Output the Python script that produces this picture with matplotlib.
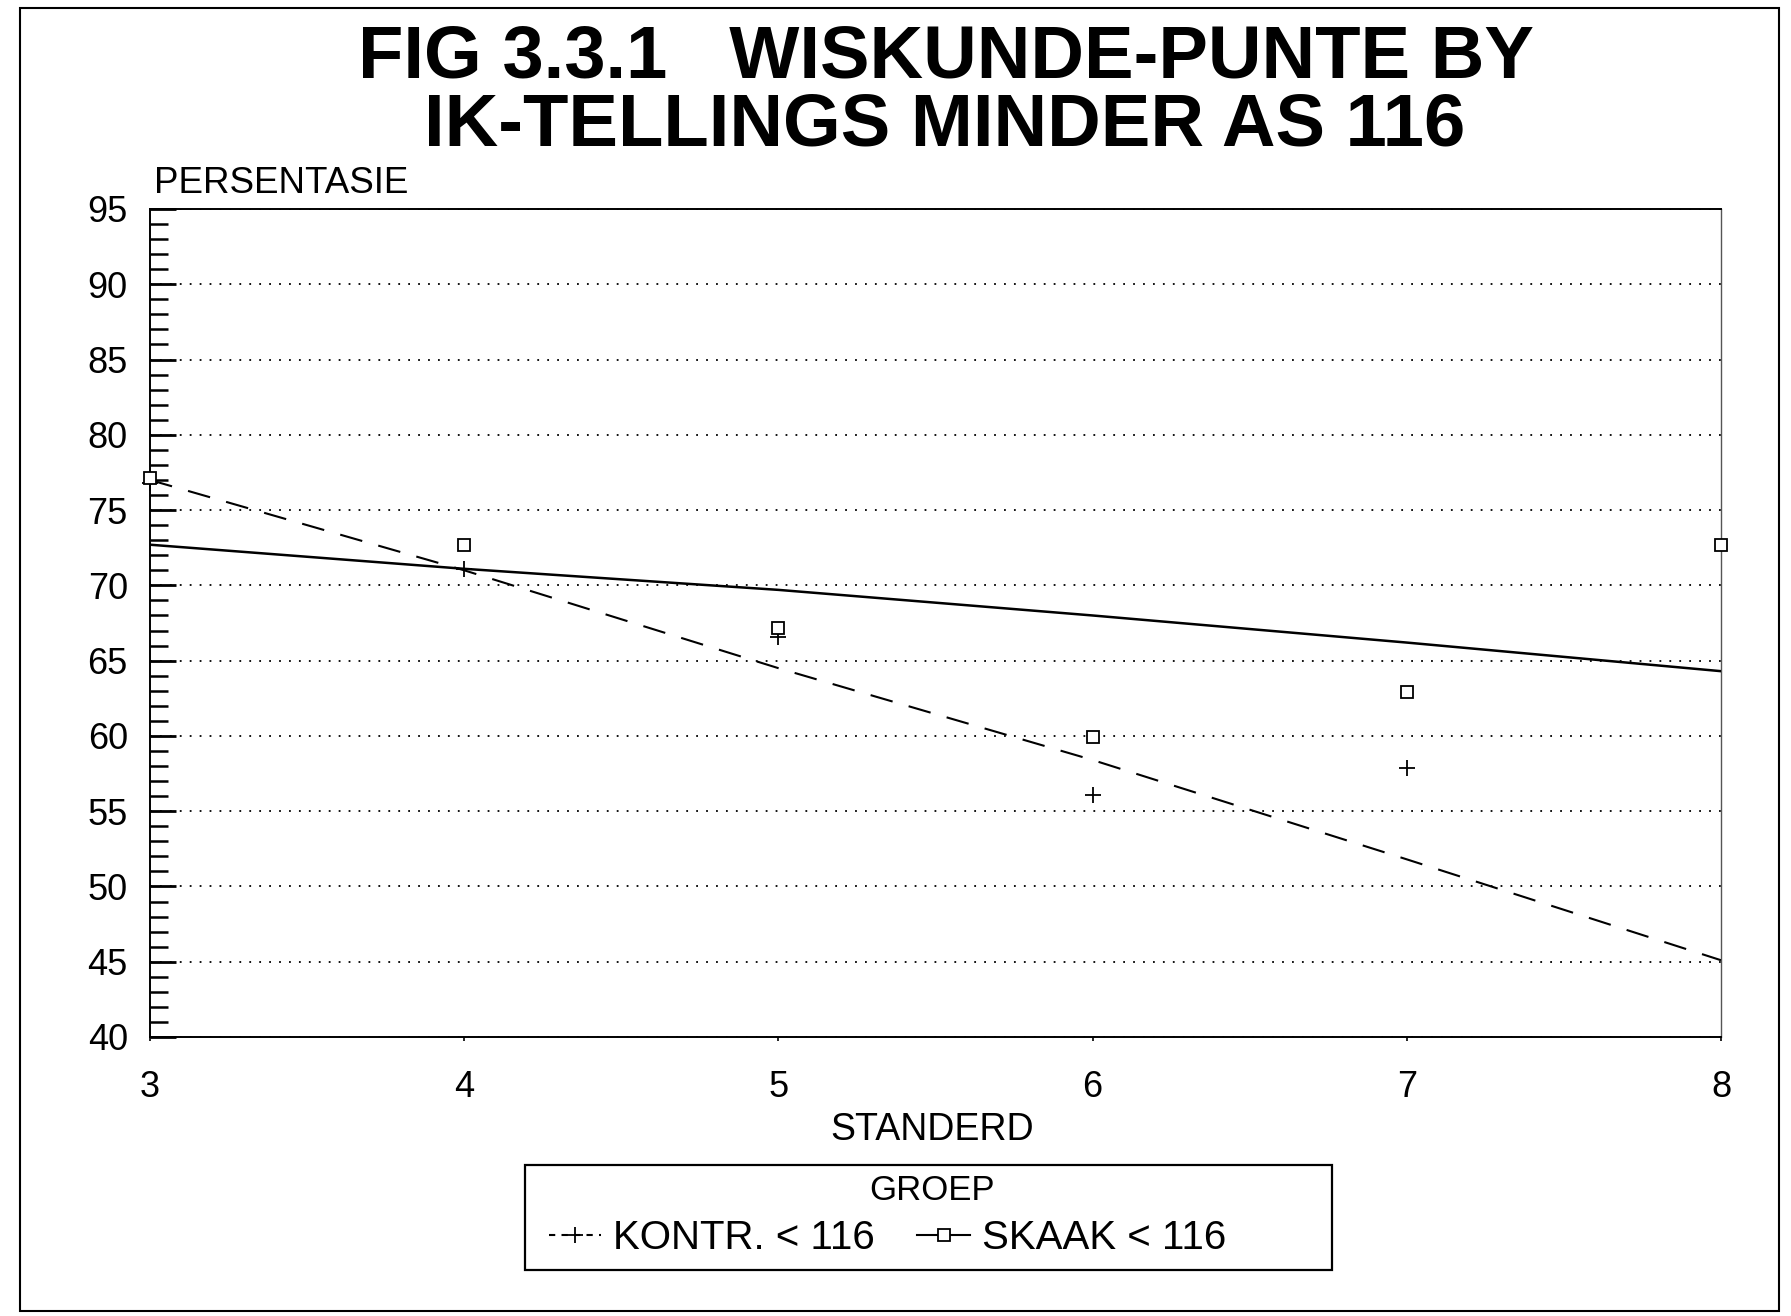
import matplotlib

matplotlib.use("Agg")
import matplotlib.pyplot as plt
from matplotlib.lines import Line2D
from matplotlib.patches import Rectangle
from matplotlib.ticker import MultipleLocator

plt.rcParams["font.family"] = ["Liberation Sans", "DejaVu Sans"]

# values
standerd = [3, 4, 5, 6, 7, 8]
kontr_standerd = [3, 4, 5, 6, 7]
kontr_punte = [76.8, 71.1, 66.6, 56.1, 57.9]
skaak_punte = [77.1, 72.7, 67.2, 59.9, 62.9, 72.7]
# fitted trend lines as drawn in the original
kontr_trend = [77.0, 71.0, 64.5, 58.4, 51.8, 45.1]
skaak_trend = [72.7, 71.1, 69.7, 68.0, 66.2, 64.3]

y_ticks = [40, 45, 50, 55, 60, 65, 70, 75, 80, 85, 90, 95]
x_ticks = [3, 4, 5, 6, 7, 8]
legend_labels = ["KONTR. < 116", "SKAAK < 116"]

W, H = 1791, 1316
fig = plt.figure(figsize=(W / 100, H / 100), dpi=100)
ax = fig.add_axes([150 / W, 1 - 1037 / H, (1721 - 150) / W, (1037 - 209) / H])

ax.plot(standerd, kontr_trend, color="black", lw=1.5, ls=(0, (11, 8)), zorder=3)
ax.plot(standerd, skaak_trend, color="black", lw=1.8, ls="-", zorder=3)
ax.plot(kontr_standerd, kontr_punte, ls="none", marker="+", ms=11, mew=1.3,
        color="black", clip_on=False, zorder=4)
ax.plot(standerd, skaak_punte, ls="none", marker="s", ms=9, mew=1.3,
        mfc="white", mec="black", clip_on=False, zorder=4)

ax.set_xlim(3, 8)
ax.set_ylim(40, 95)
ax.set_xticks(x_ticks)
ax.set_yticks(y_ticks)
ax.yaxis.set_minor_locator(MultipleLocator(1))
ax.tick_params(axis="y", which="major", direction="in", length=19, width=2.0,
               labelsize=26, pad=16, right=False)
ax.tick_params(axis="y", which="minor", direction="in", length=13, width=1.8,
               right=False)
ax.tick_params(axis="x", which="major", direction="out", length=3, width=1.2,
               labelsize=26, pad=21, top=False)
ax.grid(axis="y", which="major", color="black", lw=1.3, ls=(0, (1, 4.5)))
for name, sp in ax.spines.items():
    sp.set_linewidth(1.4)
ax.spines["right"].set_color("#555555")
ax.spines["right"].set_linewidth(1.0)

fig.text(946 / W, 1 - 78 / H, "FIG 3.3.1   WISKUNDE-PUNTE BY", ha="center",
         va="baseline", fontsize=53.5, fontweight="bold")
fig.text(945 / W, 1 - 145 / H, "IK-TELLINGS MINDER AS 116", ha="center",
         va="baseline", fontsize=53.5, fontweight="bold")
fig.text(154 / W, 1 - 193 / H, "PERSENTASIE", ha="left", va="baseline",
         fontsize=26.5)
fig.text(932 / W, 1 - 1130 / H, "STANDERD", ha="center", va="center",
         fontsize=27)

# legend box
fig.patches.append(Rectangle((525 / W, 1 - 1270 / H), (1332 - 525) / W,
                             (1270 - 1165) / H, transform=fig.transFigure,
                             fill=False, edgecolor="black", lw=1.6))
fig.text(932 / W, 1 - 1191 / H, "GROEP", ha="center", va="center", fontsize=25)
handles = [
    Line2D([], [], color="black", lw=1.5, ls=(0, (3, 3)), marker="+", ms=11, mew=1.3),
    Line2D([], [], color="black", lw=1.5, marker="s", ms=9, mew=1.3, mfc="white"),
]
fig.legend(handles, legend_labels, loc="center left", ncol=2, frameon=False,
           bbox_to_anchor=(549 / W, 1 - 1238 / H), fontsize=29, handlelength=1.3,
           handletextpad=0.3, columnspacing=1.05, borderpad=0, borderaxespad=0)

# outer frame of the page
fig.patches.append(Rectangle((20 / W, 1 - 1311 / H), (1779 - 20) / W,
                             (1311 - 8) / H, transform=fig.transFigure,
                             fill=False, edgecolor="black", lw=1.5))

fig.savefig("out.png", dpi=100)
